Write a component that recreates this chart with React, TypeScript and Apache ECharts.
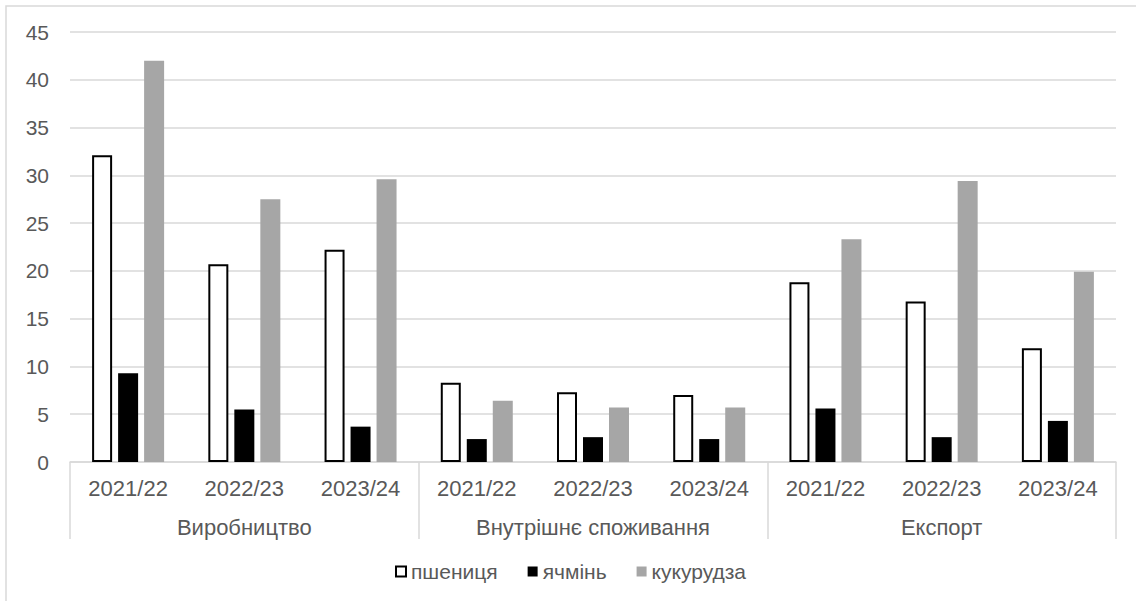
import React, { useEffect, useRef } from "react";
import * as echarts from "echarts";

const years = ["2021/22", "2022/23", "2023/24", "2021/22", "2022/23", "2023/24", "2021/22", "2022/23", "2023/24"];
const groups = ["Виробництво", "Внутрішнє споживання", "Експорт"];
const yTicks = { min: 0, max: 45, interval: 5 };

const wheat = [32.1, 20.7, 22.2, 8.3, 7.3, 7.0, 18.8, 16.8, 11.9];
const barley = [9.3, 5.5, 3.7, 2.4, 2.6, 2.4, 5.6, 2.6, 4.3];
const corn = [42.0, 27.5, 29.6, 6.4, 5.7, 5.7, 23.3, 29.4, 19.9];

const names = ["пшениця", "ячмінь", "кукурудза"];

const FONT = "'Liberation Sans', Arial, sans-serif";
const TXT = "#595959";
const GRID = "#d9d9d9";

export default function App() {
  const ref = useRef<HTMLDivElement>(null);
  useEffect(() => {
    if (!ref.current) return;
    const chart = echarts.init(ref.current, null, { renderer: "svg" });
    chart.setOption({
      animation: false,
      backgroundColor: "#ffffff",
      textStyle: { fontFamily: FONT },
      grid: { left: 70, right: 20, top: 32, bottom: 139, containLabel: false },
      graphic: [
        {
          type: "rect",
          shape: { x: 6, y: 6, width: 1300, height: 800 },
          style: { fill: "none", stroke: GRID, lineWidth: 1.5 },
          silent: true,
          z: -1,
        },
      ],
      legend: {
        data: names,
        left: 390,
        top: 556,
        itemWidth: 10,
        itemHeight: 10,
        itemGap: 30,
        icon: "rect",
        textStyle: { color: TXT, fontSize: 21, fontFamily: FONT, padding: [0, 0, 0, 0] },
      },
      xAxis: [
        {
          type: "category",
          data: years,
          position: "bottom",
          axisLine: { show: true, lineStyle: { color: GRID, width: 1.5 } },
          axisTick: { show: false },
          axisLabel: { color: TXT, fontSize: 22, margin: 15, interval: 0, fontFamily: FONT },
        },
        {
          type: "category",
          data: groups,
          position: "bottom",
          axisLine: { show: false },
          axisTick: { show: true, length: 77, lineStyle: { color: GRID, width: 1.5 } },
          axisLabel: { color: TXT, fontSize: 22, margin: 54, interval: 0, fontFamily: FONT },
        },
      ],
      yAxis: {
        type: "value",
        min: yTicks.min,
        max: yTicks.max,
        interval: yTicks.interval,
        axisLine: { show: false },
        axisTick: { show: false },
        splitLine: { lineStyle: { color: GRID, width: 1.5 } },
        axisLabel: { color: TXT, fontSize: 21, margin: 21, fontFamily: FONT },
      },
      series: [
        {
          name: names[0],
          type: "bar",
          xAxisIndex: 0,
          data: wheat,
          barWidth: 20,
          barGap: "30%",
          itemStyle: { color: "#ffffff", borderColor: "#000000", borderWidth: 2 },
        },
        {
          name: names[1],
          type: "bar",
          xAxisIndex: 0,
          data: barley,
          barWidth: 20,
          barGap: "30%",
          itemStyle: { color: "#000000" },
        },
        {
          name: names[2],
          type: "bar",
          xAxisIndex: 0,
          data: corn,
          barWidth: 20,
          barGap: "30%",
          itemStyle: { color: "#a6a6a6" },
        },
      ],
    });
    return () => chart.dispose();
  }, []);
  return (
    <div
      ref={ref}
      style={{ position: "fixed", left: 0, top: 0, width: 1136, height: 601 }}
    />
  );
}
